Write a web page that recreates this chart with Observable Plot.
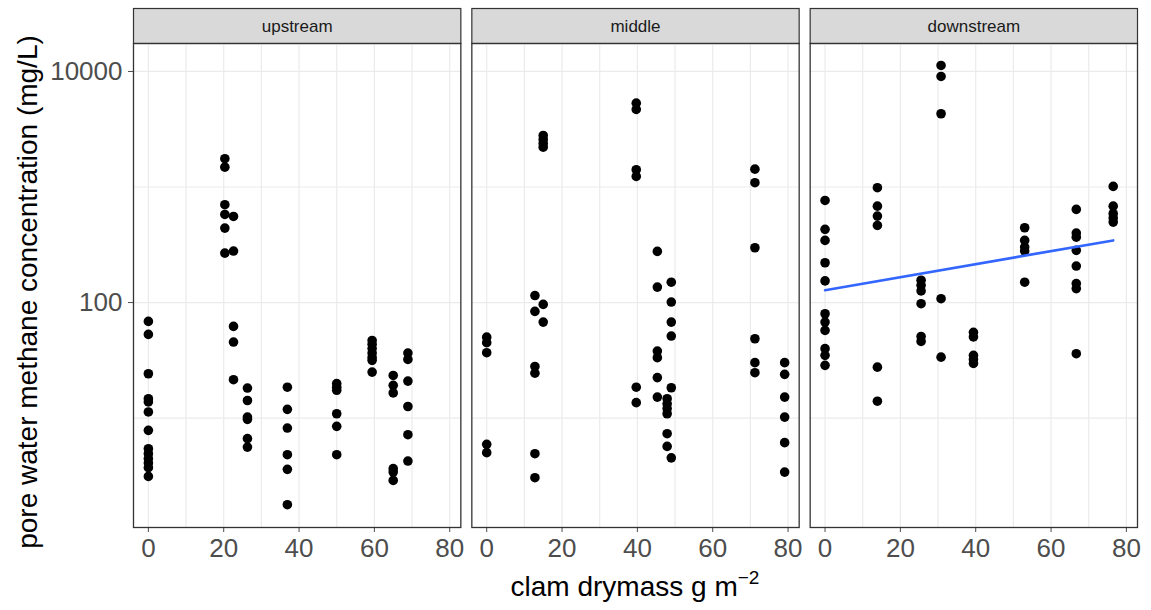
<!DOCTYPE html>
<html>
<head>
<meta charset="utf-8">
<script src="https://cdn.jsdelivr.net/npm/d3@7"></script>
<script src="https://cdn.jsdelivr.net/npm/@observablehq/plot@0.6"></script>
<style>
  html, body { margin: 0; padding: 0; background: #fff; }
  #chart svg { display: block; }
</style>
</head>
<body>
<div id="chart"></div>
<script>
// ---- categories and tick labels ----
const sites = ["upstream", "middle", "downstream"];
const xTicks = [0, 20, 40, 60, 80];
const xGrid = [0, 10, 20, 30, 40, 50, 60, 70, 80];
const yTicks = [100, 10000];
const yTickLabels = ["100", "10000"];
const yGrid = [10, 100, 1000, 10000];

// ---- upstream: clam drymass (g m-2) per sampling column, methane values (mg/L) ----
const upstreamMass = [0, 20.3, 22.6, 26.3, 36.9, 50, 59.4, 65, 68.9];
const upstreamMethane = [
  [68.7, 53.0, 24.2, 14.7, 13.8, 11.3, 7.83, 5.43, 4.92, 4.45, 4.08, 3.72, 3.13],
  [1757, 1486, 703, 579, 441, 268],
  [556, 279, 62.2, 45.5, 21.5],
  [18.2, 14.2, 10.2, 9.75, 6.64, 5.61],
  [18.5, 11.9, 8.2, 4.82, 3.6, 1.78],
  [19.9, 18.5, 17.4, 10.9, 8.48, 4.82],
  [47.0, 43.5, 40.0, 36.5, 33.5, 31.6, 25.0],
  [23.4, 19.2, 16.5, 3.65, 3.41, 2.89],
  [36.5, 32.2, 20.9, 12.6, 7.18, 4.25]
];

// ---- middle ----
const middleMass = [0, 12.8, 15, 39.7, 45.3, 47.9, 49, 71.2, 79.1];
const middleMethane = [
  [50.2, 44.9, 36.8, 5.93, 5.02],
  [115, 83.8, 28.0, 24.5, 4.92, 3.05],
  [2793, 2580, 2384, 2213, 96.4, 67.7],
  [5318, 4690, 1410, 1234, 18.5, 13.6],
  [277, 136, 38.0, 33.3, 22.4, 15.2],
  [14.7, 13.3, 12.1, 10.9, 7.33, 5.69],
  [150, 101, 67.7, 51.3, 18.3, 4.53],
  [1428, 1089, 298, 48.6, 30.2, 24.7],
  [30.2, 23.9, 15.2, 10.2, 6.13, 3.41]
];

// ---- downstream ----
const downstreamMass = [0, 13.9, 25.5, 30.8, 39.4, 53, 66.7, 76.5];
const downstreamMethane = [
  [765, 430, 345, 221, 154, 80.0, 67.7, 57.4, 39.9, 34.9, 28.6],
  [986, 683, 560, 465, 27.6, 14.0],
  [156, 141, 126, 97.7, 50.9, 46.1],
  [11270, 9057, 4305, 108, 33.7],
  [55.2, 50.4, 34.9, 32.2, 29.7],
  [444, 345, 302, 279, 150],
  [640, 399, 368, 283, 207, 146, 132, 36.1],
  [1012, 683, 587, 538, 497]
];

// ---- fitted trend (downstream) ----
const fitSite = "downstream";
const fitMass = [0, 76.5];
const fitMethane = [128, 345];

// ---- build tables ----
function rows(site, masses, methane) {
  return masses.flatMap((m, i) => methane[i].map(v => ({site, mass: m, methane: v})));
}
const points = [
  ...rows("upstream", upstreamMass, upstreamMethane),
  ...rows("middle", middleMass, middleMethane),
  ...rows("downstream", downstreamMass, downstreamMethane)
];
const fit = fitMass.map((m, i) => ({site: fitSite, mass: m, methane: fitMethane[i]}));

const font = "'Liberation Sans', Arial, Helvetica, sans-serif";
const panelHeight = 484;
const stripHeight = 35;

const plot = Plot.plot({
  width: 1151,
  height: 610,
  marginLeft: 133,
  marginRight: 14,
  marginTop: 43,
  marginBottom: 83,
  style: {fontFamily: font, fontSize: "26px", background: "white", color: "black", overflow: "visible"},
  fx: {domain: sites, paddingInner: 0.0325, paddingOuter: 0, axis: null, label: null, round: false},
  x: {type: "linear", domain: [-3.95, 82.95], axis: null},
  y: {type: "log", domain: [1.13, 17460], axis: null},
  marks: [
    // strip backgrounds
    Plot.frame({fill: "#D9D9D9", stroke: "#333333", strokeWidth: 1.2, insetTop: -stripHeight, insetBottom: panelHeight}),
    Plot.text(sites, {fx: d => d, text: d => d, frameAnchor: "top", dy: -17, lineAnchor: "middle",
      fontSize: 17, fill: "#1A1A1A"}),
    // grid
    Plot.gridX(xGrid, {stroke: "#EBEBEB", strokeOpacity: 1, strokeWidth: 1.2}),
    Plot.gridY(yGrid, {stroke: "#EBEBEB", strokeOpacity: 1, strokeWidth: 1.2}),
    // axes
    Plot.axisX(xTicks, {anchor: "bottom", tickSize: 5, tickPadding: 6, fontSize: 26, color: "#4D4D4D",
      label: null, tickFormat: d => String(d)}),
    Plot.axisY(yTicks, {anchor: "left", tickSize: 5, tickPadding: 6, fontSize: 26, color: "#4D4D4D",
      label: null, tickFormat: d => yTickLabels[yTicks.indexOf(d)]}),
    // data
    Plot.dot(points, {x: "mass", y: "methane", fx: "site", r: 4.8, fill: "black", stroke: "none"}),
    Plot.line(fit, {x: "mass", y: "methane", fx: "site", stroke: "#3366FF", strokeWidth: 2.6}),
    // panel border
    Plot.frame({stroke: "#333333", strokeWidth: 1.3})
  ]
});

document.getElementById("chart").appendChild(plot);

// axis titles
const svg = d3.select(plot);
const xt = svg.append("text")
  .attr("x", 635).attr("y", 596)
  .attr("text-anchor", "middle")
  .attr("font-family", font).attr("font-size", 28).attr("fill", "black");
xt.append("tspan").text("clam drymass g m");
xt.append("tspan").text("\u22122").attr("font-size", 19).attr("dy", -12);

svg.append("text")
  .attr("transform", "translate(37,292) rotate(-90)")
  .attr("text-anchor", "middle")
  .attr("font-family", font).attr("font-size", 28).attr("fill", "black")
  .text("pore water methane concentration (mg/L)");
</script>
</body>
</html>
